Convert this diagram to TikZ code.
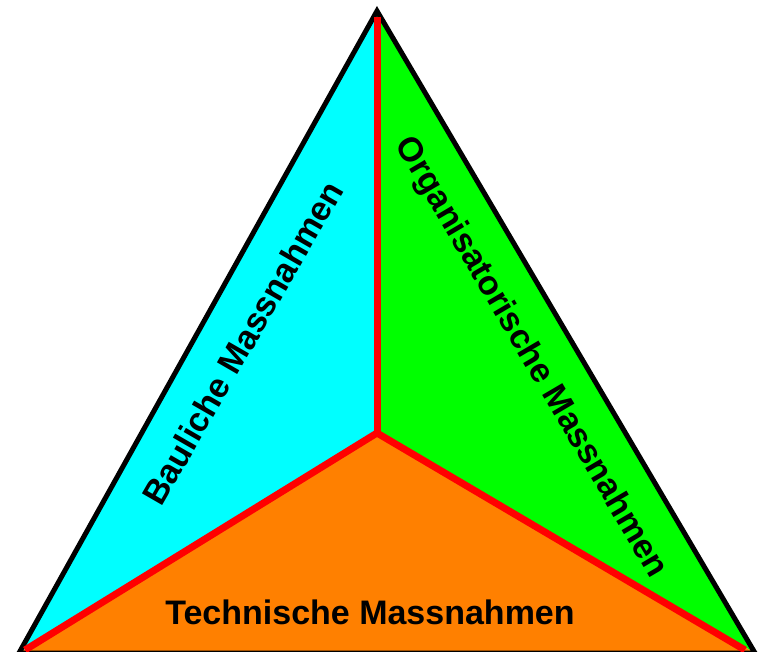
\documentclass[tikz,border=0pt]{standalone}
\usepackage{fontspec}
\setmainfont{Liberation Sans}
\usepackage{tikz}
\usepackage{xcolor}

\definecolor{baucyan}{HTML}{00FFFF}
\definecolor{orggreen}{HTML}{00FF00}
\definecolor{techorange}{HTML}{FF8000}
\definecolor{sepred}{HTML}{FF0000}

\tikzset{
  seperator/.style={draw=sepred, line width=7pt},
  outline/.style={draw=black, line width=5pt, line join=miter},
  label/.style={font=\bfseries\fontsize{34}{40}\selectfont, inner sep=0pt, anchor=base}
}

\begin{document}
\begin{tikzpicture}[x=1pt, y=-1pt]
\useasboundingbox (0,0) rectangle (758,652);
\coordinate (top) at (377,11);
\coordinate (left) at (19,653);
\coordinate (right) at (755,653);
\coordinate (mid) at (377,433);

% die drei Felder
\fill[baucyan] (top) -- (mid) -- (left) -- cycle;
\fill[orggreen] (top) -- (mid) -- (right) -- cycle;
\fill[techorange] (mid) -- (left) -- (right) -- cycle;

\draw[outline] (top) -- (left) -- (right) -- cycle;

\coordinate (topin) at (377,17);
\coordinate (leftin) at (25,650);
\coordinate (rightin) at (745,650);
\draw[seperator] (mid) -- (topin);
\draw[seperator] (mid) -- (leftin);
\draw[seperator] (mid) -- (rightin);

\node[label, rotate=60] (bau) at (253,349) {Bauliche Massnahmen};
\node[label, rotate=-59.5] (org) at (523,362) {Organisatorische Massnahmen};
\node[label] (tech) at (370,624) {Technische Massnahmen};
\end{tikzpicture}
\end{document}
